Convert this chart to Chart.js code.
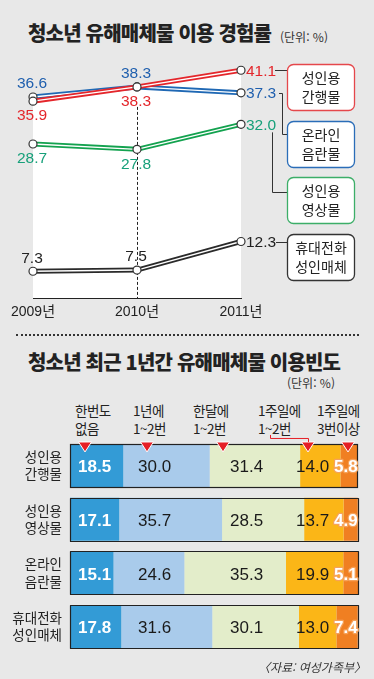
<!DOCTYPE html>
<html lang="ko">
<head>
<meta charset="utf-8">
<script src="https://cdn.jsdelivr.net/npm/chart.js@4.4.1/dist/chart.umd.min.js"></script>
<style>
  body { margin: 0; width: 374px; height: 679px; overflow: hidden; position: relative; background: #e8e8e8; font-family: "Noto Sans CJK KR", sans-serif; color: #222; }
  .txt { position: absolute; white-space: nowrap; }
  .title { font-size: 20px; font-weight: 900; letter-spacing: -0.8px; line-height: 26px; color: #222; }
  .unit { font-size: 12px; line-height: 16px; color: #333; }
  .head { font-size: 13.5px; line-height: 18px; color: #222; letter-spacing: -0.5px; }
  #trend { position: absolute; left: 0; top: 0; }
  #freq { position: absolute; left: 0; top: 330px; }
  #sep { position: absolute; left: 16px; top: 334px; width: 343px; border-top: 2px dotted #333; }
</style>
</head>
<body>
<div class="txt title" style="left:28px;top:20px">청소년 유해매체물 이용 경험률</div>
<div class="txt unit" style="left:280px;top:29px">(단위: %)</div>
<canvas id="trend" width="374" height="330"></canvas>
<div id="sep"></div>
<div class="txt title" style="left:28px;top:349px">청소년 최근 1년간 유해매체물 이용빈도</div>
<div class="txt unit" style="left:287px;top:375px">(단위: %)</div>
<div id="heads"></div>
<canvas id="freq" width="374" height="349"></canvas>
<div class="txt unit" style="left:258px;top:659px;font-style:italic">〈자료: 여성가족부〉</div>
<script>
// 청소년 유해매체물 이용 경험률 (%)
const years = ['2009년', '2010년', '2011년'];
const pubRate = [35.9, 38.3, 41.1];    // 성인용 간행물
const netRate = [36.6, 38.3, 37.3];    // 온라인 음란물
const videoRate = [28.7, 27.8, 32.0];  // 성인용 영상물
const mobileRate = [7.3, 7.5, 12.3];   // 휴대전화 성인매체

// 최근 1년간 이용빈도 (%)
const media = [['성인용', '간행물'], ['성인용', '영상물'], ['온라인', '음란물'], ['휴대전화', '성인매체']];
const never = [18.5, 17.1, 15.1, 17.8];
const yearly = [30.0, 35.7, 24.6, 31.6];
const monthly = [31.4, 28.5, 35.3, 30.1];
const weekly = [14.0, 13.7, 19.9, 13.0];
const often = [5.8, 4.9, 5.1, 7.4];
const freqNames = [['한번도', '없음'], ['1년에', '1~2번'], ['한달에', '1~2번'], ['1주일에', '1~2번'], ['1주일에', '3번이상']];

const numFont = '"Liberation Sans", Arial, "Noto Sans CJK KR", sans-serif';
const krFont = '"Noto Sans CJK KR", sans-serif';

const lineSeries = [
  { name: ['성인용', '간행물'], data: pubRate, line: '#e4262b', text: '#e4262b', box: '#e5474b', pos: ['below', 'below', 'right'] },
  { name: ['온라인', '음란물'], data: netRate, line: '#1f68b4', text: '#1f5fae', box: '#2a6db8', pos: ['above', 'above', 'right'] },
  { name: ['성인용', '영상물'], data: videoRate, line: '#13a24f', text: '#17a07a', box: '#3cae68', pos: ['below', 'below', 'right'] },
  { name: ['휴대전화', '성인매체'], data: mobileRate, line: '#2a2a2a', text: '#222', box: '#333', pos: ['above', 'above', 'right'] }
];
const boxTops = [64, 121, 177, 234];

const trendSets = [];
lineSeries.forEach((s, i) => {
  trendSets.push({
    data: s.data, borderColor: '#fff', borderWidth: 1.4, tension: 0, fill: false, clip: false,
    pointRadius: 4, pointBackgroundColor: '#fff', pointBorderColor: '#333', pointBorderWidth: 1.2,
    order: i * 2 + 1
  });
  trendSets.push({
    data: s.data, borderColor: s.line, borderWidth: 5, tension: 0, clip: false, pointRadius: 0,
    fill: i < 2 ? 'start' : false, backgroundColor: '#fff', order: i * 2 + 2
  });
});

function roundBox(ctx, x, y, w, h, r) {
  ctx.beginPath();
  ctx.moveTo(x + r, y);
  ctx.arcTo(x + w, y, x + w, y + h, r);
  ctx.arcTo(x + w, y + h, x, y + h, r);
  ctx.arcTo(x, y + h, x, y, r);
  ctx.arcTo(x, y, x + w, y, r);
  ctx.closePath();
}

const trendDecor = {
  id: 'trendDecor',
  beforeDatasetsDraw(chart) {
    const { ctx, chartArea, scales } = chart;
    const x = scales.x.getPixelForValue(1);
    const y = scales.y.getPixelForValue(pubRate[1]) + 20;
    ctx.save();
    ctx.strokeStyle = '#222';
    ctx.lineWidth = 1;
    ctx.setLineDash([3, 2]);
    ctx.beginPath();
    ctx.moveTo(Math.round(x) + 0.5, y);
    ctx.lineTo(Math.round(x) + 0.5, chartArea.bottom);
    ctx.stroke();
    ctx.restore();
  },
  afterDatasetsDraw(chart) {
    const { ctx, scales } = chart;
    ctx.save();
    ctx.font = '15.5px ' + numFont;
    lineSeries.forEach((s, i) => {
      ctx.fillStyle = s.text;
      s.data.forEach((v, j) => {
        const px = scales.x.getPixelForValue(j);
        const py = scales.y.getPixelForValue(v);
        const t = v.toFixed(1);
        ctx.textBaseline = 'middle';
        if (s.pos[j] === 'right') {
          ctx.textAlign = 'left';
          ctx.fillText(t, px + 5, py + 1);
        } else {
          ctx.textAlign = 'center';
          ctx.fillText(t, px - 1, py + (s.pos[j] === 'below' ? 15 : -13));
        }
      });
    });

    // legend boxes + connectors
    const end = scales.x.getPixelForValue(2);
    const yEnd = lineSeries.map(s => scales.y.getPixelForValue(s.data[2]));
    ctx.strokeStyle = '#333';
    ctx.lineWidth = 1;
    ctx.beginPath();
    ctx.moveTo(end + 34, Math.round(yEnd[0]) + 0.5); ctx.lineTo(287, Math.round(yEnd[0]) + 0.5);
    ctx.moveTo(end + 38, Math.round(yEnd[1]) + 0.5); ctx.lineTo(282.5, Math.round(yEnd[1]) + 0.5);
    ctx.lineTo(282.5, 134.5); ctx.lineTo(287, 134.5);
    ctx.moveTo(272.5, yEnd[2] + 8); ctx.lineTo(272.5, 192.5); ctx.lineTo(287, 192.5);
    ctx.moveTo(end + 35, Math.round(yEnd[3]) + 0.5); ctx.lineTo(287, Math.round(yEnd[3]) + 0.5);
    ctx.stroke();

    lineSeries.forEach((s, i) => {
      const top = boxTops[i];
      roundBox(ctx, 287.5, top + 0.5, 67, 46, 6);
      ctx.fillStyle = '#fff';
      ctx.fill();
      ctx.strokeStyle = s.box;
      ctx.lineWidth = 1.3;
      ctx.stroke();
      ctx.fillStyle = '#222';
      ctx.font = '14px ' + krFont;
      ctx.textAlign = 'center';
      ctx.textBaseline = 'middle';
      ctx.fillText(s.name[0], 321, top + 14);
      ctx.fillText(s.name[1], 321, top + 33);
    });
    ctx.restore();
  }
};

new Chart(document.getElementById('trend'), {
  type: 'line',
  data: { labels: years, datasets: trendSets },
  options: {
    responsive: false,
    animation: false,
    devicePixelRatio: 1,
    layout: { padding: { left: 33, right: 133, top: 53, bottom: 0 } },
    plugins: { legend: { display: false }, tooltip: { enabled: false }, filler: { drawTime: 'beforeDatasetsDraw' } },
    scales: {
      x: {
        offset: false, z: 1,
        grid: { display: false, drawTicks: false },
        border: { display: true, color: '#222', width: 1 },
        ticks: { color: '#222', font: { family: numFont, size: 14 }, padding: 6, maxRotation: 0, autoSkip: false },
        afterFit(axis) { axis.height = 32; }
      },
      y: { display: false, min: 2.8, max: 44 }
    }
  },
  plugins: [trendDecor]
});

// 빈도 막대
const freqData = [never, yearly, monthly, weekly, often];
const freqColors = ['#339bd6', '#a9cbeb', '#e3edca', '#fbb617', '#f07f22'];
const labelCols = [8, 68, 160, 226, 264];
const markCols = [15, 77, 153, 238, 278];

// header labels
const heads = document.getElementById('heads');
const headLeft = [75, 133, 193, 258, 317];
freqNames.forEach((n, i) => {
  const d = document.createElement('div');
  d.className = 'txt head';
  d.style.left = headLeft[i] + 'px';
  d.style.top = '401px';
  d.innerHTML = n[0] + '<br>' + n[1];
  heads.appendChild(d);
});

const freqDecor = {
  id: 'freqDecor',
  afterDatasetsDraw(chart) {
    const { ctx, chartArea } = chart;
    const metas = freqData.map((d, i) => chart.getDatasetMeta(i));
    ctx.save();
    media.forEach((m, j) => {
      const first = metas[0].data[j];
      const last = metas[metas.length - 1].data[j];
      const top = first.y - first.height / 2;
      ctx.strokeStyle = '#222';
      ctx.lineWidth = 1.2;
      ctx.strokeRect(Math.round(first.base) + 0.5, Math.round(top) + 0.5, Math.round(last.x - first.base), Math.round(first.height));

      freqData.forEach((d, i) => {
        const el = metas[i].data[j];
        const t = d[j].toFixed(1);
        const x = chartArea.left + labelCols[i];
        const y = el.y + 2;
        ctx.textAlign = 'left';
        ctx.textBaseline = 'middle';
        if (i === 0) {
          ctx.font = 'bold 17px ' + numFont;
          ctx.fillStyle = '#fff';
          ctx.fillText(t, x, y);
        } else if (i === 4) {
          ctx.font = 'bold 17px ' + numFont;
          ctx.lineJoin = 'round';
          ctx.strokeStyle = '#f6a25a';
          ctx.lineWidth = 2.5;
          ctx.strokeText(t, x, y);
          ctx.fillStyle = '#fff';
          ctx.fillText(t, x, y);
        } else {
          ctx.font = '17px ' + numFont;
          ctx.fillStyle = '#1a1a1a';
          ctx.fillText(t, x, y);
        }
      });

      if (j === 0) {
        markCols.forEach(c => {
          const cx = chartArea.left + c;
          ctx.beginPath();
          ctx.moveTo(cx - 6.5, top - 2);
          ctx.lineTo(cx + 6.5, top - 2);
          ctx.lineTo(cx, top + 8);
          ctx.closePath();
          ctx.fillStyle = '#e51f26';
          ctx.fill();
          ctx.strokeStyle = '#fff';
          ctx.lineWidth = 1;
          ctx.stroke();
        });
        // bracket under 1주일에 1~2번
        const bx = chartArea.left + markCols[3];
        ctx.strokeStyle = '#e51f26';
        ctx.lineWidth = 1;
        ctx.beginPath();
        ctx.moveTo(270.5, top - 9);
        ctx.lineTo(270.5, top - 5.5);
        ctx.lineTo(bx + 0.5, top - 5.5);
        ctx.lineTo(bx + 0.5, top - 2);
        ctx.stroke();
      }
    });
    ctx.restore();
  }
};

new Chart(document.getElementById('freq'), {
  type: 'bar',
  data: {
    labels: media,
    datasets: freqData.map((d, i) => ({
      label: freqNames[i].join(' '), data: d, backgroundColor: freqColors[i],
      borderWidth: 0, categoryPercentage: 1, barPercentage: 0.8
    }))
  },
  options: {
    indexAxis: 'y',
    responsive: false,
    animation: false,
    devicePixelRatio: 1,
    layout: { padding: { left: 0, right: 16, top: 108.6, bottom: 21.2 } },
    plugins: { legend: { display: false }, tooltip: { enabled: false } },
    scales: {
      x: { display: false, stacked: true, min: 0, max: 100 },
      y: {
        stacked: true,
        grid: { display: false, drawTicks: false },
        border: { display: false },
        ticks: { padding: 8, color: '#222', font: { family: krFont, size: 13.5, lineHeight: 1.3 } },
        afterFit(axis) { axis.width = 70; }
      }
    }
  },
  plugins: [freqDecor]
});
</script>
</body>
</html>
